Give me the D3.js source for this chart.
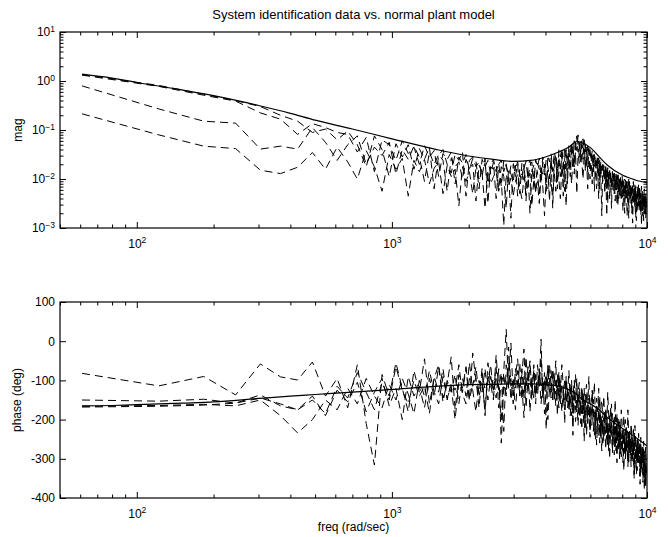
<!DOCTYPE html>
<html>
<head>
<meta charset="utf-8">
<script src="https://cdn.jsdelivr.net/npm/d3@7"></script>
<style>
  body { margin: 0; background: #fff; }
  svg { display: block; font-family: "Liberation Sans", Arial, Helvetica, sans-serif; }
  .axis path { display: none; }
  .axis line { stroke: #000; stroke-width: 1; }
  .axis text { font-size: 12px; fill: #000; }
  .frame { fill: none; stroke: #000; stroke-width: 1.2; }
  .trace { fill: none; stroke: #000; stroke-linejoin: round; }
  .trace--model { stroke-width: 1.2; }
  .trace--data { stroke-width: 1; stroke-dasharray: 8,5; }
</style>
</head>
<body>
<div id="chart"></div>
<script>
// measurement frequency grid (rad/sec), evenly spaced samples
const freqGrid = d3.range(1, 164).map(k => k * 61);

// model curve
const modelFreq  = [61, 80, 100, 150, 200, 300, 400, 500, 700, 1000, 1500, 2000, 2500, 3000, 3500, 4000, 4500, 5000, 5300, 5500, 6000, 6500, 7000, 8000, 9000, 10000];
const modelMag   = [0.14, 0.06, -0.03, -0.18, -0.30, -0.50, -0.66, -0.80, -0.98, -1.18, -1.40, -1.53, -1.60, -1.64, -1.62, -1.55, -1.45, -1.33, -1.23, -1.25, -1.36, -1.55, -1.72, -1.92, -2.02, -2.08]; // log10
const modelPhase = [-165, -164, -162, -158, -155, -146, -140, -136, -130, -123, -115, -111, -110, -109, -109, -111, -115, -125, -135, -145, -160, -175, -195, -222, -245, -267];

// measured magnitude, log10, one array per experiment
const magLog1 = [
  0.12, -0.11, -0.29, -0.41, -0.65, -0.78, -1.09, -0.87, -0.95, -1.05,
  -1.09, -1.45, -1.15, -1.85, -1.20, -1.30, -1.62, -1.22, -1.48, -1.35,
  -1.70, -1.32, -1.55, -1.42, -1.95, -1.48, -1.60, -1.45, -2.10, -1.55,
  -1.68, -1.50, -1.82, -1.58, -1.62, -2.20, -1.60, -1.75, -1.62, -1.90,
  -1.65, -2.40, -1.70, -1.62, -1.85, -1.68, -2.05, -1.72, -1.66, -1.95,
  -1.70, -2.30, -1.68, -1.78, -1.64, -2.00, -1.72, -1.65, -2.15, -1.60,
  -1.75, -1.58, -1.95, -1.55, -1.70, -2.25, -1.52, -1.65, -1.48, -1.85,
  -1.45, -1.60, -2.05, -1.40, -1.55, -1.38, -1.75, -1.35, -1.50, -2.10,
  -1.32, -1.45, -1.25, -1.60, -1.22, -1.38, -1.15, -1.30, -1.55, -1.20,
  -1.35, -1.18, -1.48, -1.28, -1.75, -1.33, -1.45, -1.40, -1.62, -1.42,
  -1.85, -1.50, -1.58, -2.20, -1.55, -1.70, -1.62, -1.95, -1.68, -1.80,
  -1.72, -2.30, -1.75, -1.88, -1.78, -2.05, -1.82, -1.95, -2.60, -1.85,
  -1.98, -1.88, -2.15, -1.90, -2.05, -1.92, -2.40, -1.95, -2.10, -2.00,
  -2.25, -1.98, -2.08, -2.70, -2.02, -2.18, -2.05, -2.35, -2.00, -2.20,
  -2.08, -2.50, -2.10, -2.25, -2.05, -2.40, -2.12, -2.30, -2.85, -2.15,
  -2.35, -2.10, -2.55, -2.20, -2.40, -2.15, -2.65, -2.25, -2.45, -2.20,
  -2.70, -2.30, -2.50
];
const magLog2 = [
  -0.10, -0.57, -0.82, -0.86, -1.39, -1.33, -1.39, -0.95, -1.25, -1.62,
  -1.30, -1.12, -1.70, -1.35, -1.52, -1.25, -1.90, -1.40, -1.60, -1.33,
  -1.55, -2.05, -1.45, -1.70, -1.50, -1.62, -2.25, -1.58, -1.75, -1.65,
  -2.00, -1.60, -1.78, -1.70, -2.45, -1.72, -1.85, -1.68, -2.10, -1.75,
  -1.80, -1.70, -2.20, -1.75, -1.95, -2.60, -1.78, -1.90, -2.05, -1.72,
  -2.35, -1.80, -1.92, -1.75, -2.15, -1.85, -2.70, -1.80, -1.95, -2.00,
  -1.85, -2.30, -1.78, -1.90, -1.70, -2.05, -1.82, -2.45, -1.65, -1.88,
  -1.75, -1.58, -2.20, -1.62, -1.80, -1.52, -2.35, -1.58, -1.45, -1.70,
  -1.48, -1.95, -1.40, -1.30, -1.65, -1.25, -1.42, -1.10, -1.35, -1.50,
  -1.22, -1.60, -1.30, -1.45, -1.35, -1.85, -1.40, -1.55, -1.48, -2.10,
  -1.45, -1.60, -1.50, -1.75, -1.85, -1.57, -2.20, -1.65, -1.75, -1.70,
  -1.95, -1.73, -1.90, -2.75, -1.77, -2.05, -1.83, -1.95, -2.20, -1.85,
  -2.00, -1.90, -2.45, -1.95, -2.15, -1.87, -2.05, -2.35, -1.97, -2.20,
  -1.93, -2.30, -2.05, -2.00, -2.40, -2.10, -2.25, -2.15, -2.80, -2.05,
  -2.30, -2.15, -2.50, -2.10, -2.35, -2.20, -2.60, -2.15, -2.40, -2.25,
  -2.45, -2.30, -2.15, -2.65, -2.35, -2.50, -2.25, -2.75, -2.40, -2.55,
  -2.30, -2.80, -2.45
];
const magLog3 = [
  -0.67, -1.10, -1.33, -1.38, -1.82, -1.89, -1.76, -1.46, -1.80, -1.35,
  -1.65, -2.00, -1.42, -1.75, -2.25, -1.50, -1.80, -1.58, -2.35, -1.62,
  -1.85, -1.60, -2.10, -1.78, -1.65, -2.30, -1.72, -1.95, -1.80, -2.55,
  -1.75, -2.05, -1.85, -2.30, -1.78, -2.00, -1.88, -2.60, -1.82, -2.10,
  -1.95, -1.85, -2.25, -2.00, -2.95, -1.90, -2.15, -1.98, -2.35, -2.05,
  -1.90, -2.20, -2.40, -1.95, -2.30, -2.10, -1.88, -2.55, -2.00, -2.25,
  -2.05, -2.50, -1.95, -2.15, -2.75, -1.98, -2.20, -1.90, -2.10, -2.35,
  -1.85, -2.25, -1.80, -2.00, -2.40, -1.75, -1.95, -1.70, -2.55, -1.65,
  -1.85, -1.60, -2.10, -1.55, -1.75, -1.45, -2.30, -1.50, -1.68, -1.40,
  -1.62, -2.00, -1.50, -1.70, -1.58, -2.20, -1.65, -1.80, -1.72, -1.95,
  -1.58, -2.25, -1.65, -1.75, -1.60, -1.95, -1.70, -1.85, -2.75, -1.72,
  -1.80, -2.00, -1.75, -2.20, -1.85, -1.92, -2.40, -1.88, -2.05, -1.95,
  -2.25, -2.00, -2.10, -1.95, -2.50, -2.05, -2.15, -2.00, -2.35, -2.10,
  -2.20, -2.65, -2.10, -2.30, -2.15, -2.40, -2.25, -2.15, -2.50, -2.30,
  -2.40, -2.20, -2.70, -2.35, -2.50, -2.25, -2.40, -2.80, -2.35, -2.55,
  -2.30, -2.50, -2.65, -2.40, -2.75, -2.45, -2.60, -2.35, -2.85, -2.55,
  -2.70, -2.45, -2.65
];
const magLog4 = [
  0.13, -0.09, -0.27, -0.40, -0.52, -0.70, -0.82, -1.05, -0.98, -1.20,
  -1.02, -1.30, -1.75, -1.12, -1.40, -1.95, -1.28, -1.55, -1.30, -1.80,
  -1.38, -1.60, -1.35, -2.20, -1.52, -1.40, -1.70, -1.88, -1.50, -1.62,
  -1.45, -2.35, -1.62, -1.55, -1.75, -1.65, -1.95, -1.58, -2.50, -1.70,
  -1.60, -1.85, -1.68, -2.15, -1.62, -1.75, -1.90, -2.80, -1.70, -1.80,
  -1.65, -1.90, -2.05, -1.70, -2.45, -1.75, -1.62, -1.85, -1.72, -2.30,
  -1.68, -1.80, -2.10, -1.65, -1.92, -1.60, -1.75, -2.00, -1.58, -2.60,
  -1.62, -1.50, -1.80, -1.55, -1.95, -1.45, -1.65, -2.25, -1.40, -1.58,
  -1.38, -1.75, -1.32, -1.50, -1.90, -1.28, -1.12, -1.45, -1.25, -1.70,
  -1.30, -1.50, -1.20, -1.85, -1.40, -1.55, -1.32, -2.00, -1.50, -1.60,
  -1.55, -1.70, -1.95, -1.62, -1.75, -2.40, -1.68, -1.85, -1.75, -2.05,
  -1.80, -1.95, -2.10, -1.85, -2.50, -1.90, -2.00, -1.88, -2.15, -2.05,
  -1.90, -2.30, -2.00, -2.10, -1.95, -2.55, -2.05, -2.20, -2.00, -2.45,
  -2.10, -2.05, -2.35, -2.15, -2.25, -2.05, -2.75, -2.20, -2.30, -2.15,
  -2.40, -2.20, -2.30, -2.90, -2.25, -2.35, -2.20, -2.50, -2.30, -2.65,
  -2.25, -2.55, -2.35, -2.45, -2.30, -2.95, -2.40, -2.50, -2.35, -2.60,
  -2.40, -2.75, -2.45
];

// measured phase (deg)
const phase1 = [
  -166, -164, -161, -165, -150, -190, -234, -200, -150, -175,
  -120, -160, -95, -140, -170, -110, -150, -95, -135, -185,
  -100, -140, -75, -130, -160, -90, -145, -115, -200, -105,
  -130, -70, -150, -110, -95, -170, -80, -125, -105, -60,
  -140, -90, -115, -200, -75, 30, -120, -95, -160, -70,
  -110, -55, -150, -90, -125, -65, -180, -100, -80, -135,
  -95, -115, 5, -150, -105, -85, -125, -60, -110, -140,
  -90, -135, -115, -170, -100, -130, -150, -95, -160, -120,
  -175, -110, -145, -200, -125, -160, -95, -185, -150, -210,
  -140, -175, -120, -220, -160, -190, -145, -230, -170, -130,
  -200, -180, -250, -165, -215, -190, -140, -235, -205, -260,
  -195, -225, -170, -250, -210, -280, -200, -235, -160, -255,
  -220, -290, -210, -245, -185, -270, -230, -300, -215, -250,
  -225, -310, -240, -265, -200, -285, -250, -320, -235, -270,
  -255, -300, -230, -280, -260, -340, -245, -290, -265, -310,
  -250, -295, -275, -345, -260, -300, -280, -360, -270, -320,
  -290, -375, -300
];
const phase2 = [
  -150, -153, -148, -158, -137, -165, -175, -150, -185, -115,
  -145, -80, -130, -175, -105, -150, -65, -125, -160, -100,
  -140, -115, -185, -90, -130, -70, -150, -105, -125, -60,
  -135, -160, -95, -115, -65, -140, -105, -175, -85, -120,
  -95, -145, -70, -260, -110, -135, -55, -150, -100, -120,
  -75, -140, -115, -195, -90, -130, -60, -115, -145, -85,
  -125, -70, -160, -100, -130, -90, -200, -115, -75, -150,
  -120, -165, -85, -140, -110, -180, -125, -150, -95, -170,
  -130, -190, -115, -160, -140, -205, -170, -125, -195, -160,
  -225, -150, -185, -165, -130, -210, -175, -245, -190, -160,
  -230, -195, -175, -265, -210, -240, -185, -225, -280, -200,
  -240, -215, -275, -195, -250, -225, -300, -230, -210, -265,
  -240, -195, -275, -250, -310, -235, -265, -220, -290, -255,
  -280, -240, -330, -260, -290, -245, -275, -305, -250, -285,
  -270, -320, -255, -295, -275, -350, -260, -300, -285, -330,
  -270, -310, -290, -365, -285, -320, -300, -340, -290, -380,
  -310, -345, -320
];
const phase3 = [
  -82, -114, -90, -137, -58, -91, -99, -53, -140, -95,
  -170, -60, -210, -316, -85, -140, -55, -120, -180, -75,
  -130, -45, -160, -95, -60, -145, -110, -40, -175, -85,
  -120, -65, -150, -30, -100, -135, -70, -190, -55, -110,
  -150, -35, -125, -80, -230, -60, -110, -5, -140, -90,
  -45, -120, -85, -20, -170, -95, -50, -130, -75, -160,
  -60, -110, -40, -135, -80, -225, -55, -100, -145, -70,
  -105, -50, -190, -85, -130, -60, -115, -210, -90, -140,
  -75, -155, -100, -240, -120, -85, -170, -130, -105, -180,
  -115, -150, -255, -135, -110, -170, -90, -200, -150, -125,
  -160, -105, -215, -145, -180, -120, -260, -170, -150, -195,
  -140, -210, -175, -230, -130, -190, -250, -165, -220, -185,
  -200, -240, -150, -260, -195, -225, -280, -205, -245, -175,
  -215, -255, -190, -235, -300, -220, -260, -175, -250, -230,
  -265, -210, -240, -290, -225, -270, -215, -255, -340, -245,
  -280, -235, -305, -260, -245, -330, -270, -290, -255, -350,
  -300, -270, -335
];
const phase4 = [
  -168, -166, -163, -158, -145, -160, -175, -140, -190, -125,
  -155, -105, -180, -130, -95, -165, -120, -200, -90, -140,
  -115, -170, -95, -140, -65, -155, -100, -130, -85, -160,
  -95, -140, -55, -125, -180, -100, -130, -70, -150, -90,
  -125, -65, -170, -105, -85, -140, -15, -115, -95, -175,
  -100, -130, -70, -145, -40, -120, -95, -150, -60, -115,
  -140, -80, -120, -95, -185, -105, -70, -135, -115, -90,
  -150, -100, -125, -80, -160, -115, -140, -175, -105, -135,
  -160, -120, -190, -145, -100, -175, -150, -215, -130, -165,
  -185, -130, -200, -155, -240, -170, -195, -160, -215, -185,
  -170, -240, -200, -185, -230, -160, -210, -250, -190, -225,
  -255, -185, -235, -210, -270, -220, -190, -245, -230, -285,
  -205, -260, -235, -280, -215, -250, -195, -265, -240, -295,
  -260, -225, -285, -245, -300, -230, -270, -255, -315, -240,
  -290, -260, -245, -310, -275, -250, -325, -280, -300, -260,
  -315, -270, -290, -255, -335, -285, -310, -265, -345, -295,
  -280, -360, -310
];

// tick values
const freqMajor = [100, 1000, 10000];
const freqMinor = [50, 60, 70, 80, 90, 200, 300, 400, 500, 600, 700, 800, 900,
                   2000, 3000, 4000, 5000, 6000, 7000, 8000, 9000];
const magMajor = [1e-3, 1e-2, 1e-1, 1, 10];
const magMinor = [];
[1e-3, 1e-2, 1e-1, 1].forEach(dec => [2, 3, 4, 5, 6, 7, 8, 9].forEach(m => magMinor.push(dec * m)));
const phaseTicks = [-400, -300, -200, -100, 0, 100];

const MINUS = '\u2212';

class BodeFigure {
    constructor(el) {
        this.width = 668;
        this.height = 537;
        this.left = 60;
        this.right = 647;

        this.svg = d3.select(el)
            .append('svg')
            .attr('width', this.width)
            .attr('height', this.height);

        this.x = d3.scaleLog().domain([50, 10000]).range([this.left, this.right]);

        this.drawTitle();
        this.drawMag();
        this.drawPhase();
    }

    drawTitle() {
        this.svg.append('text')
            .attr('x', (this.left + this.right) / 2)
            .attr('y', 19)
            .attr('text-anchor', 'middle')
            .style('font-size', '13px')
            .text('System identification data vs. normal plant model');
    }

    // "10" with a raised exponent
    powerLabel(sel, exp) {
        sel.text('');
        sel.append('tspan').text('10');
        sel.append('tspan')
            .attr('dy', '-0.55em')
            .style('font-size', '8.5px')
            .text(String(exp).replace('-', MINUS));
    }

    addFrame(g, y, top, bottom, yMajor, yMinor, yFormat) {
        const self = this;
        const x = this.x;

        // bottom x axis with labels
        const xb = g.append('g').attr('class', 'axis')
            .attr('transform', `translate(0,${bottom})`)
            .call(d3.axisBottom(x).tickValues(freqMajor).tickSize(-6).tickPadding(11.5));
        xb.selectAll('text').each(function (d) {
            self.powerLabel(d3.select(this), Math.round(Math.log10(d)));
        });
        g.append('g').attr('class', 'axis')
            .attr('transform', `translate(0,${bottom})`)
            .call(d3.axisBottom(x).tickValues(freqMinor).tickSize(-3.5).tickFormat(''));

        // top x axis, ticks only
        g.append('g').attr('class', 'axis')
            .attr('transform', `translate(0,${top})`)
            .call(d3.axisTop(x).tickValues(freqMajor).tickSize(-6).tickFormat(''));
        g.append('g').attr('class', 'axis')
            .attr('transform', `translate(0,${top})`)
            .call(d3.axisTop(x).tickValues(freqMinor).tickSize(-3.5).tickFormat(''));

        // left y axis with labels
        const yl = g.append('g').attr('class', 'axis')
            .attr('transform', `translate(${this.left},0)`)
            .call(d3.axisLeft(y).tickValues(yMajor).tickSize(-6).tickPadding(5));
        yl.selectAll('text').each(function (d) { yFormat(d3.select(this), d); });

        // right y axis, ticks only
        g.append('g').attr('class', 'axis')
            .attr('transform', `translate(${this.right},0)`)
            .call(d3.axisRight(y).tickValues(yMajor).tickSize(-6).tickFormat(''));

        if (yMinor.length) {
            g.append('g').attr('class', 'axis')
                .attr('transform', `translate(${this.left},0)`)
                .call(d3.axisLeft(y).tickValues(yMinor).tickSize(-3.5).tickFormat(''));
            g.append('g').attr('class', 'axis')
                .attr('transform', `translate(${this.right},0)`)
                .call(d3.axisRight(y).tickValues(yMinor).tickSize(-3.5).tickFormat(''));
        }

        g.append('rect')
            .attr('class', 'frame')
            .attr('x', this.left)
            .attr('y', top)
            .attr('width', this.right - this.left)
            .attr('height', bottom - top);
    }

    addTraces(g, y, top, bottom, clipId, series, modelVals) {
        g.append('clipPath').attr('id', clipId)
            .append('rect')
            .attr('x', this.left)
            .attr('y', top)
            .attr('width', this.right - this.left)
            .attr('height', bottom - top);

        const plot = g.append('g').attr('clip-path', `url(#${clipId})`);

        const dataLine = d3.line()
            .x(d => this.x(d[0]))
            .y(d => y(d[1]));

        series.forEach(vals => {
            plot.append('path')
                .attr('class', 'trace trace--data')
                .attr('d', dataLine(freqGrid.map((f, i) => [f, vals[i]])));
        });

        const modelLine = d3.line()
            .x(d => this.x(d[0]))
            .y(d => y(d[1]))
            .curve(d3.curveMonotoneX);

        plot.append('path')
            .attr('class', 'trace trace--model')
            .attr('d', modelLine(modelFreq.map((f, i) => [f, modelVals[i]])));
    }

    drawMag() {
        const top = 32, bottom = 228;
        this.yMag = d3.scaleLog().domain([1e-3, 10]).range([bottom, top]);
        const g = this.svg.append('g').attr('class', 'panel--mag');

        const toLin = arr => arr.map(v => Math.pow(10, v));
        this.addTraces(g, this.yMag, top, bottom, 'clip-mag',
            [toLin(magLog1), toLin(magLog2), toLin(magLog3), toLin(magLog4)], toLin(modelMag));

        this.addFrame(g, this.yMag, top, bottom, magMajor, magMinor,
            (sel, d) => this.powerLabel(sel, Math.round(Math.log10(d))));

        g.append('text')
            .attr('transform', `translate(22,${(top + bottom) / 2}) rotate(-90)`)
            .attr('text-anchor', 'middle')
            .style('font-size', '12px')
            .text('mag');
    }

    drawPhase() {
        const top = 302, bottom = 498;
        this.yPhase = d3.scaleLinear().domain([-400, 100]).range([bottom, top]);
        const g = this.svg.append('g').attr('class', 'panel--phase');

        this.addTraces(g, this.yPhase, top, bottom, 'clip-phase',
            [phase1, phase2, phase3, phase4], modelPhase);

        this.addFrame(g, this.yPhase, top, bottom, phaseTicks, [],
            (sel, d) => sel.text(String(d)));

        g.append('text')
            .attr('transform', `translate(21,${(top + bottom) / 2}) rotate(-90)`)
            .attr('text-anchor', 'middle')
            .style('font-size', '12px')
            .text('phase (deg)');

        g.append('text')
            .attr('x', (this.left + this.right) / 2)
            .attr('y', 531)
            .attr('text-anchor', 'middle')
            .style('font-size', '12px')
            .text('freq (rad/sec)');
    }
}

new BodeFigure('#chart');
</script>
</body>
</html>
